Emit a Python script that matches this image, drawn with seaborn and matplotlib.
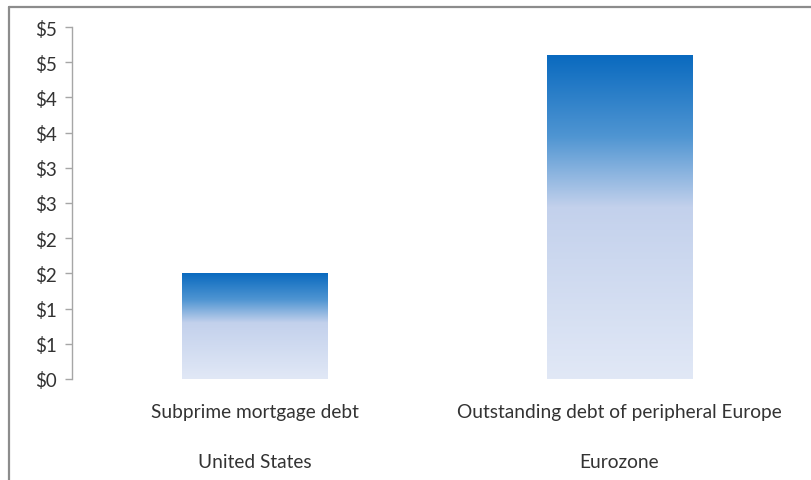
import numpy as np
import pandas as pd
import matplotlib
matplotlib.use("Agg")
import matplotlib.pyplot as plt
from matplotlib.colors import LinearSegmentedColormap
import seaborn as sns

categories = ["Subprime mortgage debt", "Outstanding debt of peripheral Europe"]
groups = ["United States", "Eurozone"]
values = [1.5, 4.6]
tick_values = [0, 0.5, 1.0, 1.5, 2.0, 2.5, 3.0, 3.5, 4.0, 4.5, 5.0]
tick_labels = ["$0", "$1", "$1", "$2", "$2", "$3", "$3", "$4", "$4", "$5", "$5"]

sns.set_theme(style="white")
plt.rcParams['font.family'] = ['Lato', 'DejaVu Sans']

df = pd.DataFrame({"category": categories, "value": values})

fig = plt.figure(figsize=(8.11, 4.81), dpi=100)
ax = fig.add_axes([72/811, 101/481, 730/811, 352/481])

sns.barplot(data=df, x="category", y="value", ax=ax, width=0.4,
            color="#5a9bd5", saturation=1)

cmap = LinearSegmentedColormap.from_list(
    "grad", [(0.0, "#0a6abf"), (0.25, "#4f95d2"), (0.47, "#c3d1ec"), (1.0, "#e1e8f6")])
grad = np.linspace(0, 1, 256).reshape(-1, 1)
for p in ax.patches:
    x0, y0 = p.get_x(), p.get_y()
    w, h = p.get_width(), p.get_height()
    p.set_facecolor("none")
    p.set_edgecolor("none")
    ax.imshow(grad, cmap=cmap, aspect="auto", extent=(x0, x0 + w, y0, y0 + h),
              origin="upper", zorder=2, interpolation="bilinear")

ax.set_xlim(-0.5, 1.5)
ax.set_ylim(0, 5.0)
ax.set_yticks(tick_values)
ax.set_yticklabels(tick_labels)
ax.set_xticks([0, 1])
ax.set_xticklabels(categories)
ax.set_xlabel("")
ax.set_ylabel("")

for i, g in enumerate(groups):
    ax.text(i, -0.235, g, transform=ax.get_xaxis_transform(), ha="center",
            va="center", fontsize=13.8, color="#333333")

for s in ["top", "right", "bottom"]:
    ax.spines[s].set_visible(False)
ax.spines["left"].set_color("#a6a6a6")
ax.spines["left"].set_linewidth(1.0)
ax.tick_params(axis="y", which="both", left=True, length=5, width=1.0,
               color="#a6a6a6", labelsize=13.5, labelcolor="#333333", pad=6)
ax.tick_params(axis="x", bottom=False, labelsize=13.8, labelcolor="#333333", pad=11)

# outer chart border
fig.add_artist(plt.Line2D([9/811, 9/811], [0, 1 - 8/481], transform=fig.transFigure,
                          color="#8c8c8c", linewidth=1.6))
fig.add_artist(plt.Line2D([9/811, 1], [1 - 8/481, 1 - 8/481], transform=fig.transFigure,
                          color="#8c8c8c", linewidth=1.6))

fig.savefig("out.png", dpi=100)
